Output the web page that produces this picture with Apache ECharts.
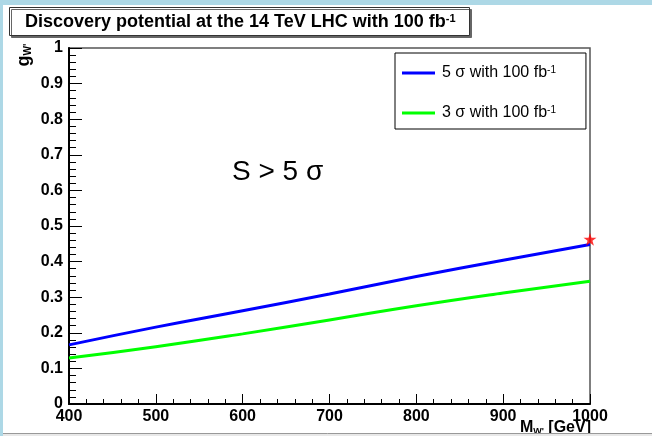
<!DOCTYPE html>
<html><head><meta charset="utf-8">
<script src="https://cdn.jsdelivr.net/npm/echarts@6/dist/echarts.min.js"></script>
<style>html,body{margin:0;padding:0;background:#add8e6}#c{width:652px;height:436px}</style>
</head><body><div id="c"></div>
<script>
// Data
const masses = [400, 500, 600, 700, 800, 900, 1000];          // M_W' [GeV]
const g5sigma = [0.166, 0.216, 0.262, 0.309, 0.358, 0.404, 0.448];
const g3sigma = [0.129, 0.161, 0.197, 0.236, 0.276, 0.312, 0.345];
const starPoint = [1000, 0.463];
const seriesNames = ['5 σ with 100 fb{sup|-1}', '3 σ with 100 fb{sup|-1}'];
const titleText = 'Discovery potential at the 14 TeV LHC with 100 fb{sup|-1}';

const FF = '"Liberation Sans", Arial, sans-serif';
const chart = echarts.init(document.getElementById('c'), null, {renderer: 'canvas'});

const starPath = 'path://M50,0 L61,35 L98,35 L68,57 L79,91 L50,70 L21,91 L32,57 L2,35 L39,35 Z';

chart.setOption({
  backgroundColor: '#add8e6',
  animation: false,
  title: {
    text: titleText,
    left: 9, top: 7,
    padding: [6, 14, 5, 16],
    backgroundColor: '#fff',
    borderColor: '#333', borderWidth: 1,
    shadowColor: '#666', shadowOffsetX: 2, shadowOffsetY: 2, shadowBlur: 0,
    textStyle: {
      fontFamily: FF, fontSize: 18, fontWeight: 'bold', color: '#000', lineHeight: 18,
      rich: {sup: {fontFamily: FF, fontSize: 11, fontWeight: 'bold', verticalAlign: 'top', lineHeight: 11}}
    }
  },
  legend: {
    data: seriesNames,
    orient: 'vertical',
    left: 395, top: 53,
    padding: [12, 30, 8, 7],
    itemGap: 24,
    itemWidth: 33, itemHeight: 3,
    icon: 'rect',
    selectedMode: false,
    backgroundColor: '#fff',
    borderColor: '#000', borderWidth: 1,
    textStyle: {
      fontFamily: FF, fontSize: 16, color: '#000', padding: [0, 0, 0, 2],
      rich: {sup: {fontFamily: FF, fontSize: 10, verticalAlign: 'top', lineHeight: 10}}
    }
  },
  grid: {
    left: 69, right: 62, top: 48, bottom: 32,
    show: true, borderColor: '#555', borderWidth: 1.5, backgroundColor: 'transparent'
  },
  xAxis: {
    type: 'value', min: 400, max: 1000, interval: 100,
    axisLine: {show: true, lineStyle: {color: '#000', width: 2}},
    axisTick: {show: true, inside: true, length: 10, lineStyle: {color: '#000', width: 1}},
    minorTick: {show: true, splitNumber: 5, length: 5, lineStyle: {color: '#000', width: 1}},
    splitLine: {show: false},
    axisLabel: {fontFamily: FF, fontSize: 16, fontWeight: 'bold', color: '#000', margin: 5,
      hideOverlap: false, formatter: v => String(v)}
  },
  yAxis: {
    type: 'value', min: 0, max: 1, interval: 0.1,
    axisLine: {show: true, lineStyle: {color: '#000', width: 2}},
    axisTick: {show: true, inside: true, length: 13, lineStyle: {color: '#000', width: 1}},
    minorTick: {show: true, splitNumber: 5, length: 7, lineStyle: {color: '#000', width: 1}},
    splitLine: {show: false},
    axisLabel: {fontFamily: FF, fontSize: 16, fontWeight: 'bold', color: '#000', margin: 6,
      hideOverlap: false, padding: [4, 0, 0, 0]}
  },
  series: [
    {
      name: seriesNames[0], type: 'line', showSymbol: false, smooth: true,
      data: masses.map((m, i) => [m, g5sigma[i]]),
      lineStyle: {color: '#0000ff', width: 3}, itemStyle: {color: '#0000ff'}
    },
    {
      name: seriesNames[1], type: 'line', showSymbol: false, smooth: true,
      data: masses.map((m, i) => [m, g3sigma[i]]),
      lineStyle: {color: '#00ff00', width: 3}, itemStyle: {color: '#00ff00'}
    },
    {
      name: 'star', type: 'scatter', data: [starPoint],
      symbol: starPath, symbolSize: 13, itemStyle: {color: '#ff0000'}, z: 5
    }
  ],
  graphic: [
    {type: 'rect', z: -10, shape: {x: 3, y: 5, width: 649, height: 428}, style: {fill: '#fff'}},
    {type: 'text', left: 232, top: 158, z: 10,
      style: {text: 'S > 5 σ', font: '28px "Liberation Sans", Arial, sans-serif', fill: '#000'}},
    {type: 'text', x: 24, y: 55, rotation: Math.PI / 2, z: 10,
      style: {
        text: 'g{sub|W\'}', font: 'bold 18px "Liberation Sans", Arial, sans-serif', fill: '#000',
        align: 'center', verticalAlign: 'middle',
        rich: {sub: {font: 'bold 10px "Liberation Sans", Arial, sans-serif', verticalAlign: 'bottom', lineHeight: 10, padding: [8,0,0,0]}}
      }},
    {type: 'text', x: 591, y: 420, z: 10,
      style: {
        text: 'M{sub|W\'} [GeV]', font: 'bold 16px "Liberation Sans", Arial, sans-serif', fill: '#000',
        align: 'right', verticalAlign: 'top',
        rich: {sub: {font: 'bold 9px "Liberation Sans", Arial, sans-serif', verticalAlign: 'bottom', lineHeight: 9}}
      }},
    {type: 'rect', z: 100, shape: {x: 0, y: 433, width: 652, height: 3}, style: {fill: '#e8e8e8'}},
    {type: 'line', z: 101, shape: {x1: 3, y1: 433.5, x2: 652, y2: 433.5}, style: {stroke: '#999', lineWidth: 1}},
    {type: 'rect', z: 100, shape: {x: 0, y: 433, width: 3, height: 3}, style: {fill: '#add8e6'}}
  ]
});
</script></body></html>
